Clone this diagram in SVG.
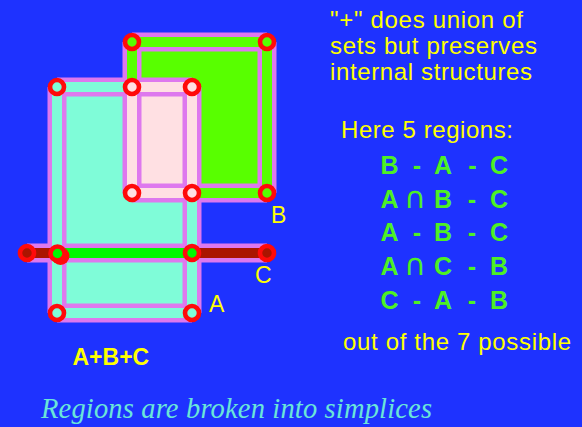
<svg xmlns="http://www.w3.org/2000/svg" width="582" height="427" viewBox="0 0 582 427">
  <style>
    .band { stroke: #de78ee; stroke-width: 19; fill: none; stroke-linecap: butt; }
    .stripe { stroke-width: 10; fill: none; stroke-linecap: butt; }
    .cy { stroke: #7ffcd8; }
    .pk { stroke: #ffe0e3; }
    .gr { stroke: #58ff00; }
    .cg { stroke: #00f800; }
    .dr { stroke: #aa1500; }
    .v { stroke: #ff0a0a; stroke-width: 4.6; }
    .vcy { fill: #7ffcd8; }
    .vpk { fill: #ffe0e3; }
    .vgr { fill: #58ff00; }
    .vcg { fill: #00f800; }
    .vdr { fill: #aa1500; }
    .yel { fill: #ffff00; font-family: "Liberation Sans", Arial, sans-serif; }
    .note { font-size: 24px; }
    .lbl { font-size: 23px; }
    .row { fill: #4ef024; font-family: "Liberation Sans", Arial, sans-serif; font-size: 25px; font-weight: bold; text-anchor: middle; }
    .cap { fill: #4ef024; font-family: "DejaVu Sans", sans-serif; font-size: 30px; font-weight: normal; text-anchor: middle; }
  </style>
  <rect x="0" y="0" width="582" height="427" fill="#1e32ff"/>

  <g id="faces">
    <polygon id="face-A-minus-B" points="57,87 132,87 132,193 192,193 192,313 57,313" fill="#7ffcd8"/>
    <rect id="face-A-and-B" x="132" y="87" width="60" height="106" fill="#ffe0e3"/>
    <polygon id="face-B-minus-A" points="132,42 267,42 267,193 192,193 192,87 132,87" fill="#58ff00"/>
  </g>

  <g id="connectors">
    <g id="bands">
      <line class="band" x1="57" y1="87" x2="192" y2="87"/>
      <line class="band" x1="57" y1="87" x2="57" y2="313"/>
      <line class="band" x1="57" y1="313" x2="192" y2="313"/>
      <line class="band" x1="192" y1="87" x2="192" y2="313"/>
      <line class="band" x1="132" y1="42" x2="267" y2="42"/>
      <line class="band" x1="132" y1="42" x2="132" y2="193"/>
      <line class="band" x1="132" y1="193" x2="267" y2="193"/>
      <line class="band" x1="267" y1="42" x2="267" y2="193"/>
      <line class="band" x1="27" y1="253" x2="267" y2="253"/>
    </g>
    <g id="stripes">
      <line class="stripe cy" x1="57" y1="87" x2="132" y2="87"/>
      <line class="stripe pk" x1="132" y1="87" x2="192" y2="87"/>
      <line class="stripe cy" x1="57" y1="87" x2="57" y2="313"/>
      <line class="stripe cy" x1="57" y1="313" x2="192" y2="313"/>
      <line class="stripe pk" x1="192" y1="87" x2="192" y2="193"/>
      <line class="stripe cy" x1="192" y1="193" x2="192" y2="313"/>
      <line class="stripe gr" x1="132" y1="42" x2="267" y2="42"/>
      <line class="stripe gr" x1="132" y1="42" x2="132" y2="87"/>
      <line class="stripe pk" x1="132" y1="87" x2="132" y2="193"/>
      <line class="stripe pk" x1="132" y1="193" x2="192" y2="193"/>
      <line class="stripe gr" x1="192" y1="193" x2="267" y2="193"/>
      <line class="stripe gr" x1="267" y1="42" x2="267" y2="193"/>
      <line class="stripe dr" x1="27" y1="253" x2="57" y2="253"/>
      <line class="stripe cg" x1="57" y1="253" x2="192" y2="253"/>
      <line class="stripe dr" x1="192" y1="253" x2="267" y2="253"/>
    </g>
  </g>

  <g id="v-b-tl"><circle class="v vgr" cx="132" cy="42" r="7"/></g>
  <g id="v-b-tr"><circle class="v vgr" cx="267" cy="42" r="7"/></g>
  <g id="v-a-tl"><circle class="v vcy" cx="57" cy="87" r="7"/></g>
  <g id="v-ab-tl"><circle class="v vpk" cx="132" cy="87" r="7"/></g>
  <g id="v-ab-tr"><circle class="v vpk" cx="192" cy="87" r="7"/></g>
  <g id="v-ab-bl"><circle class="v vpk" cx="132" cy="193" r="7"/></g>
  <g id="v-ab-br"><circle class="v vpk" cx="192" cy="193" r="7"/></g>
  <g id="v-b-br"><circle class="v vgr" cx="267" cy="193" r="7"/></g>
  <g id="v-c-l"><circle class="v vdr" cx="27" cy="253" r="7"/></g>
  <g id="v-ac-l">
    <circle cx="60.5" cy="256" r="9" fill="#ff0a0a"/>
    <circle class="v vcg" cx="57.5" cy="253.5" r="7"/>
  </g>
  <g id="v-ac-r"><circle class="v vcg" cx="192" cy="253" r="7"/></g>
  <g id="v-c-r"><circle class="v vdr" cx="267" cy="253" r="7"/></g>
  <g id="v-a-bl"><circle class="v vcy" cx="57" cy="313" r="7"/></g>
  <g id="v-a-br"><circle class="v vcy" cx="192" cy="313" r="7"/></g>

  <g id="labels">
    <text class="yel lbl" x="271" y="223">B</text>
    <text class="yel lbl" x="255" y="283">C</text>
    <text class="yel lbl" x="209" y="311.5">A</text>
    <text class="yel" x="72.5" y="365" font-size="23" font-weight="bold">A+B+C</text>
  </g>

  <g id="notes">
    <text class="yel note" x="330" y="28" textLength="193" lengthAdjust="spacing">"+" does union of</text>
    <text class="yel note" x="330" y="54" textLength="207" lengthAdjust="spacing">sets but preserves</text>
    <text class="yel note" x="330" y="80" textLength="202" lengthAdjust="spacing">internal structures</text>
    <text class="yel note" x="341" y="138" textLength="172" lengthAdjust="spacing">Here 5 regions:</text>
    <text class="yel note" x="343" y="350" textLength="228" lengthAdjust="spacing">out of the 7 possible</text>
  </g>

  <g id="regions-list">
    <text class="row" x="389.5" y="174">B</text><text class="row" x="417" y="174">-</text><text class="row" x="443" y="174">A</text><text class="row" x="472.5" y="174">-</text><text class="row" x="499" y="174">C</text>
    <text class="row" x="389.5" y="207.5">A</text><text class="cap" x="415" y="207.5">∩</text><text class="row" x="443" y="207.5">B</text><text class="row" x="472" y="207.5">-</text><text class="row" x="499" y="207.5">C</text>
    <text class="row" x="389.5" y="241">A</text><text class="row" x="417" y="241">-</text><text class="row" x="443" y="241">B</text><text class="row" x="472" y="241">-</text><text class="row" x="499" y="241">C</text>
    <text class="row" x="389.5" y="275">A</text><text class="cap" x="415" y="275">∩</text><text class="row" x="443" y="275">C</text><text class="row" x="472" y="275">-</text><text class="row" x="499" y="275">B</text>
    <text class="row" x="389.5" y="308.5">C</text><text class="row" x="417" y="308.5">-</text><text class="row" x="443" y="308.5">A</text><text class="row" x="472" y="308.5">-</text><text class="row" x="499" y="308.5">B</text>
  </g>

  <g id="caption">
    <text x="41" y="418" fill="#6ae6d8" font-family="'Liberation Serif', 'Times New Roman', serif" font-style="italic" font-size="28.5" textLength="391" lengthAdjust="spacing">Regions are broken into simplices</text>
  </g>
</svg>
